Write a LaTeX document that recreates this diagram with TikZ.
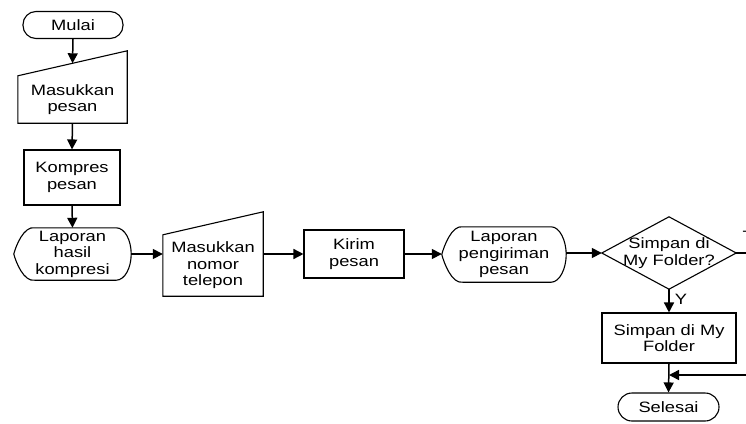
\documentclass[tikz,border=0pt]{standalone}
\usepackage{fontspec}
\setmainfont{Liberation Sans}[FakeStretch=1.22]
\usepackage{tikz}
\usetikzlibrary{arrows.meta,calc}

\begin{document}
\begin{tikzpicture}[x=1pt, y=-1pt,
    font=\fontsize{15pt}{16.5pt}\selectfont,
    every node/.style={align=center, inner sep=0pt},
    term/.style={draw, line width=1.1pt, rounded corners=13pt},
    proc/.style={draw, line width=1.1pt},
    outline/.style={line width=1.1pt},
    flow/.style={-{Triangle[length=10pt,width=10pt]}, line width=1.5pt}]

    % Frame
    \fill[white] (0,0) rectangle (746,423);
    \useasboundingbox (0,0) rectangle (746,423);

    % Terminators
    \node[term, minimum width=100pt, minimum height=27pt] (mulai) at (73,25) {Mulai};
    \node[term, minimum width=101pt, minimum height=28pt, rounded corners=14pt] (selesai) at (668.5,407) {Selesai};

    % Manual inputs (outline drawn below)
    \node[minimum width=109pt, minimum height=47pt] (inPesan) at (72.5,99.5) {Masukkan\\pesan};
    \node[minimum width=100pt, minimum height=61pt] (inNomor) at (213,265.5) {Masukkan\\nomor\\telepon};

    % Processes
    \node[proc, minimum width=96pt, minimum height=55pt] (kompres) at (72,177.5) {Kompres\\pesan};
    \node[proc, minimum width=100pt, minimum height=48pt] (kirim) at (354,254) {Kirim\\pesan};
    \node[proc, minimum width=134pt, minimum height=50pt] (simpan) at (669,338) {Simpan di My\\Folder};

    % Displays (outline drawn below)
    \node[minimum width=117pt, minimum height=52pt] (lapKompres) at (72.5,254) {Laporan\\hasil\\kompresi};
    \node[minimum width=124pt, minimum height=55pt] (lapKirim) at (504,254.5) {Laporan\\pengiriman\\pesan};

    % Decision
    \node[minimum width=134pt, minimum height=72pt] (tanya) at (669,253) {Simpan di\\My Folder?};

    % Outlines
    \foreach \n/\r in {inPesan/25pt, inNomor/23pt} {
        \draw[outline] (\n.south west) -- (\n.south east) -- ($(\n.north east)+(0pt,\r)$) -- (\n.north west) -- cycle;
    }
    \foreach \n in {lapKompres, lapKirim} {
        \draw[outline] ($(\n.north west)+(21pt,0pt)$) -- ($(\n.north east)+(-15pt,0pt)$)
            .. controls ($(\n.north east)+(-6.5pt,0pt)$) and ($(\n.east)+(0pt,14pt)$) .. (\n.east)
            .. controls ($(\n.east)+(0pt,-14pt)$) and ($(\n.south east)+(-6.5pt,0pt)$) .. ($(\n.south east)+(-15pt,0pt)$)
            -- ($(\n.south west)+(21pt,0pt)$)
            .. controls ($(\n.south west)+(10pt,-2pt)$) and ($(\n.west)+(2pt,-8pt)$) .. (\n.west)
            .. controls ($(\n.west)+(2pt,8pt)$) and ($(\n.north west)+(10pt,2pt)$) .. ($(\n.north west)+(21pt,0pt)$) -- cycle;
    }
    \draw[outline] (tanya.north) -- (tanya.east) -- (tanya.south) -- (tanya.west) -- cycle;

    % Connectors
    \coordinate (inPesanTop) at ($(inPesan.north)+(0pt,12.5pt)$);
    \coordinate (keluarT) at (760,253);
    \coordinate (balik) at (760,375);

    \draw[flow] (mulai.south) -- (inPesanTop);
    \draw[flow] (inPesan.south) -- (kompres.north);
    \draw[flow] (kompres.south) -- (lapKompres.north);
    \draw[flow] (lapKompres.east) -- (lapKompres.east -| inNomor.west);
    \draw[flow] (inNomor.east |- kirim.west) -- (kirim.west);
    \draw[flow] (kirim.east) -- (kirim.east -| lapKirim.west);
    \draw[flow] (lapKirim.east |- tanya.west) -- (tanya.west);
    \draw[flow] (tanya.south) -- node[pos=0.45, right=5pt] (labelY) {Y} (simpan.north);
    \draw[flow] (simpan.south) -- (selesai.north);
    \draw[line width=1.5pt] (tanya.east) -- (keluarT);
    \draw[flow] (balik) -- (balik -| simpan.south);
    \node[anchor=north west] (labelT) at (742.5,231) {T};

\end{tikzpicture}
\end{document}
